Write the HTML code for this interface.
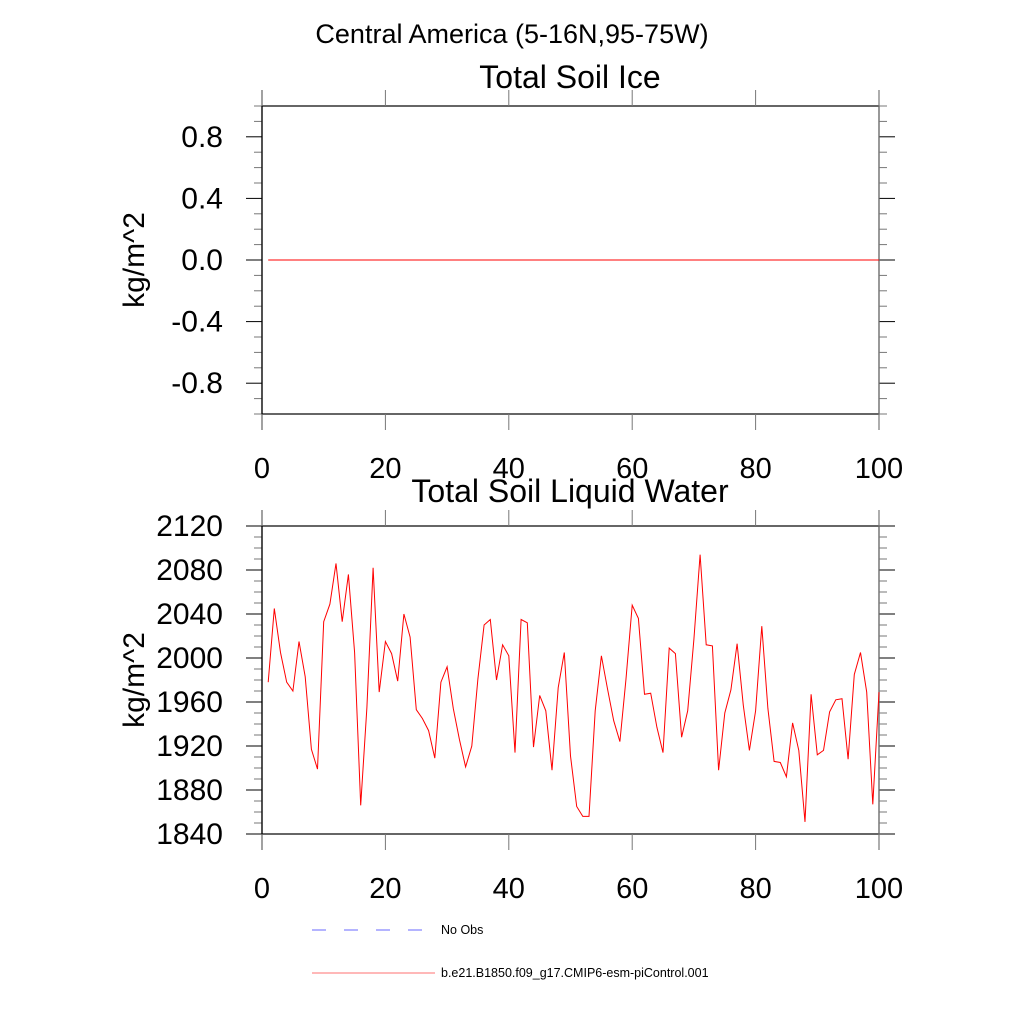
<!DOCTYPE html>
<html><head><meta charset="utf-8"><style>
html,body{margin:0;padding:0;background:#fff}
svg{display:block;font-family:"Liberation Sans",sans-serif}
</style></head><body>
<svg id="chart" width="1024" height="1024" viewBox="0 0 1024 1024">
<text x="512" y="43" font-size="27" text-anchor="middle">Central America (5-16N,95-75W)</text>
<g id="top"></g>
<g id="bot"></g>
<g>
<line x1="312" y1="930" x2="435" y2="930" stroke="#6a6aff" stroke-width="1" stroke-dasharray="14,18"/>
<text x="441" y="934" font-size="12.5">No Obs</text>
<line x1="312" y1="973" x2="435" y2="973" stroke="#ff7070" stroke-width="1"/>
<text x="441" y="977" font-size="12.5">b.e21.B1850.f09_g17.CMIP6-esm-piControl.001</text>
</g>
</svg>
<script>
const years = Array.from({length:100},(_,i)=>i+1);
const iceValues = new Array(100).fill(0);
const liquidValues = [1978,2045,2005,1978,1970,2015,1983,1917,1899,2033,2049,2086,2033,2076,2005,1866,1955,2082,1969,2015,2004,1979,2040,2019,1953,1945,1934,1909,1978,1992,1954,1926,1901,1920,1981,2030,2035,1980,2012,2002,1914,2035,2032,1919,1966,1952,1898,1973,2005,1911,1865,1856,1856,1952,2002,1972,1943,1924,1981,2048,2036,1967,1968,1937,1914,2009,2004,1928,1952,2017,2094,2012,2011,1898,1950,1971,2013,1957,1916,1952,2029,1954,1906,1905,1892,1941,1916,1851,1967,1912,1916,1951,1962,1963,1908,1985,2005,1969,1867,1969];
const xTicks = [0,20,40,60,80,100];
const iceTicks = [0.8,0.4,0.0,-0.4,-0.8];
const liqTicks = [2120,2080,2040,2000,1960,1920,1880,1840];

const NS='http://www.w3.org/2000/svg';
function mk(parent,tag,attrs){const e=document.createElementNS(NS,tag);for(const k in attrs)e.setAttribute(k,attrs[k]);parent.appendChild(e);return e;}
const X0=262,X1=879;
const xs=v=>X0+(v/100)*(X1-X0);

function panel(g,top,bot,vmin,vmax,majors,minorStep,fmt,title,vals,titleY,nameP){
  const ys=v=>bot-(v-vmin)/(vmax-vmin)*(bot-top);
  let e=mk(g,'rect',{x:X0,y:top,width:X1-X0,height:bot-top,fill:'none',stroke:'#000','stroke-width':1.2});
  
  
  const n=Math.round((vmax-vmin)/minorStep);
  for(let i=0;i<=n;i++){const v=vmin+i*minorStep;const y=ys(v);
    const isMaj=majors.some(m=>Math.abs(m-v)<1e-6);
    const L=isMaj?16:8;
    e=mk(g,'line',{x1:X0-L,y1:y,x2:X0,y2:y,stroke:isMaj?'#000':'#777','stroke-width':1});
    
    
    e=mk(g,'line',{x1:X1,y1:y,x2:X1+L,y2:y,stroke:isMaj?'#000':'#777','stroke-width':1});
    
    
  }
  majors.forEach(m=>{const t=mk(g,'text',{x:223,y:ys(m)+10,'font-size':30,'text-anchor':'end'});t.textContent=fmt(m);
    
    });
  e=mk(g,'line',{x1:X0,y1:top-16,x2:X0,y2:bot+16,stroke:'#000','stroke-width':1.2});
  
  
  e=mk(g,'line',{x1:X1,y1:top-16,x2:X1,y2:bot+16,stroke:'#777','stroke-width':1.2});
  
  
  xTicks.forEach(v=>{const x=xs(v);
    e=mk(g,'line',{x1:x,y1:top-16,x2:x,y2:top,stroke:'#777','stroke-width':1});
    
    
    e=mk(g,'line',{x1:x,y1:bot,x2:x,y2:bot+16,stroke:'#777','stroke-width':1});
    
    
    const t=mk(g,'text',{x:x,y:bot+64,'font-size':29,'text-anchor':'middle'});t.textContent=v;
    
    });
  let t=mk(g,'text',{x:570,y:titleY,'font-size':32,'text-anchor':'middle'});t.textContent=title;
  
  
  const cy=(top+bot)/2;
  t=mk(g,'text',{x:0,y:0,'font-size':30,'text-anchor':'middle',transform:`translate(144,${cy}) rotate(-90)`});t.textContent='kg/m^2';
  
  
  const pts=years.map((yr,i)=>xs(yr).toFixed(1)+','+ys(vals[i]).toFixed(1)).join(' ');
  const p=mk(g,'polyline',{points:pts,fill:'none',stroke:'#ff0000','stroke-width':1});
  
  
}
panel(document.getElementById('top'),106,414,-1,1,iceTicks,0.1,v=>v.toFixed(1),'Total Soil Ice',iceValues,88,'ice');
panel(document.getElementById('bot'),526,834,1840,2120,liqTicks,10,v=>String(v),'Total Soil Liquid Water',liquidValues,502,'liquid');
</script>
</body></html>
